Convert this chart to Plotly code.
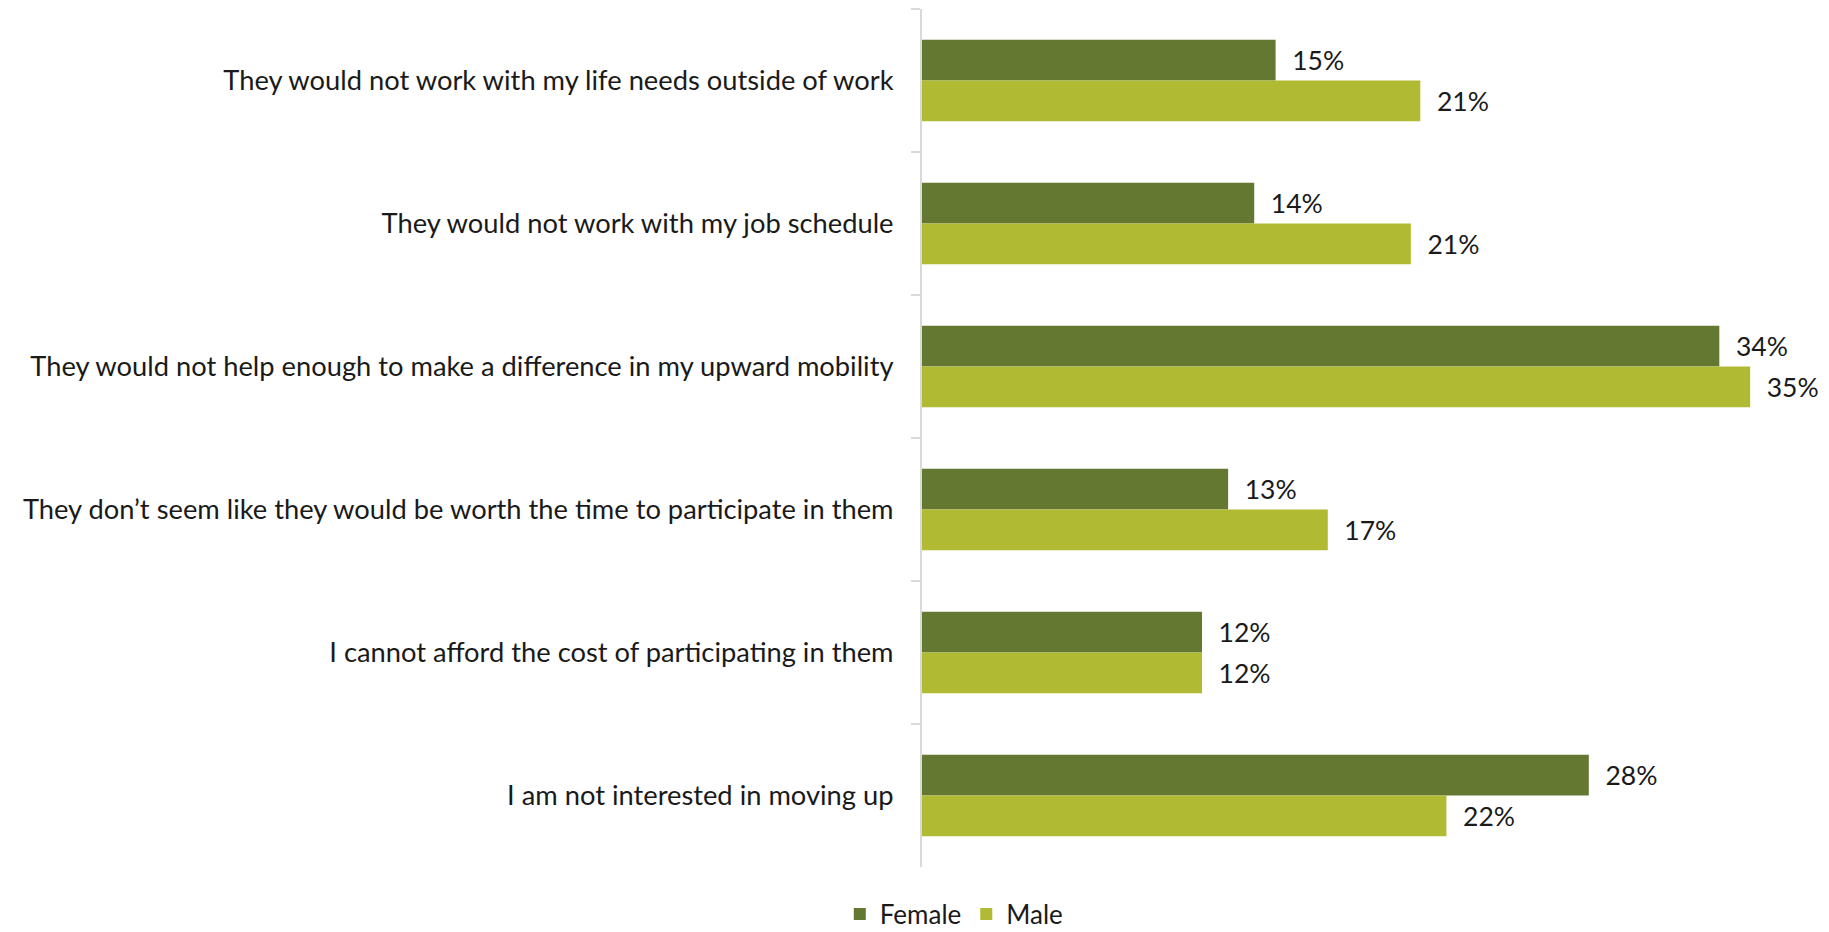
import plotly.graph_objects as go

categories = [
    "They would not work with my life needs outside of work",
    "They would not work with my job schedule",
    "They would not help enough to make a difference in my upward mobility",
    "They don\u2019t seem like they would be worth the time to participate in them",
    "I cannot afford the cost of participating in them",
    "I am not interested in moving up",
]
female = [14.9, 14.0, 33.6, 12.9, 11.8, 28.1]
male = [21.0, 20.6, 34.9, 17.1, 11.8, 22.1]

FONT = "Lato"
fig = go.Figure()
for name, vals, color in [("Female", female, "#657832"), ("Male", male, "#b0bb33")]:
    fig.add_trace(go.Bar(
        y=categories, x=vals, name=name, orientation="h",
        marker=dict(color=color, line=dict(width=0)),
        texttemplate="\u00a0\u00a0%{x:.0f}%", textposition="outside",
        textfont=dict(family=FONT, size=26.5, color="#1a1a1a"),
        cliponaxis=False,
    ))

fig.update_layout(
    width=1821, height=924,
    margin=dict(l=914, r=10, t=1, b=65, autoexpand=False),
    paper_bgcolor="white", plot_bgcolor="white",
    barmode="group", bargap=0.43, bargroupgap=0,
    font=dict(family=FONT, size=27.3, color="#1a1a1a"),
    legend=dict(orientation="h", x=0.036, xref="paper", xanchor="center",
                y=-0.055, yanchor="middle", font=dict(size=26),
                traceorder="normal"),
    xaxis=dict(range=[0, 37.8], visible=False, showgrid=False, zeroline=False),
    yaxis=dict(autorange="reversed", showline=True, linecolor="#d9d9d9",
               linewidth=2, ticks="outside", tickson="boundaries", ticklen=9,
               tickcolor="#d9d9d9", tickwidth=2, showgrid=False,
               ticklabelstandoff=21, automargin=False),
)
fig.write_html("out.html")
